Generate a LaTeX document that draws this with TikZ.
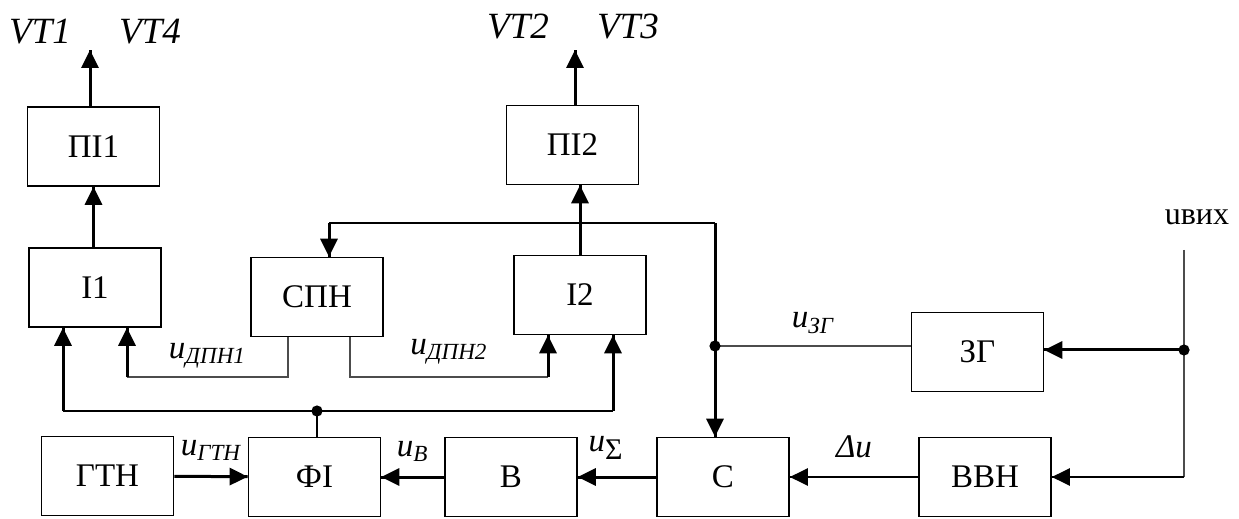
\documentclass[tikz,border=0pt]{standalone}
\usepackage{fontspec}
\setmainfont{Liberation Serif}
\usetikzlibrary{arrows.meta,decorations.markings}
\tikzset{
    blk/.style={draw, line width=0.8pt, minimum width=66pt, minimum height=39.5pt, inner sep=0pt, font=\fontsize{16.5}{19}\selectfont},
    sig/.style={draw=none, inner sep=1pt, font=\fontsize{16.5}{19}\selectfont\itshape},
    vtlbl/.style={draw=none, inner sep=0pt, font=\fontsize{18.5}{21}\selectfont\itshape},
    line/.style={line width=0.6pt, draw=black!70},
    linemed/.style={line width=1.1pt},
    linethk/.style={line width=1.5pt},
    arrowfwd/.style={decoration={markings,mark=at position 1 with {\arrow{Triangle[length=9pt,width=8.5pt]}}},postaction={decorate}},
    junc/.style={fill=black}
}
\newcommand{\sigu}[1]{u\textsubscript{#1}}

\begin{document}
\begin{tikzpicture}[x=0.5pt,y=-0.5pt]
        \useasboundingbox (0,0) rectangle (1239,519);

        \node[blk] (pi1) at (93.5,146.5) {ПІ1};
        \node[blk] (pi2) at (572.5,145) {ПІ2};
        \node[blk] (i1) at (95,287.5) {І1};
        \node[blk] (spn) at (317,297) {СПН};
        \node[blk] (i2) at (580,295) {І2};
        \node[blk] (zg) at (977.5,352) {ЗГ};
        \node[blk] (gtn) at (107.5,476) {ГТН};
        \node[blk] (fi) at (314.5,477) {ФІ};
        \node[blk] (v) at (511,477) {В};
        \node[blk] (s) at (723,477) {С};
        \node[blk] (vvn) at (985,477) {ВВН};

        \node[vtlbl] (vt1) at (40,32) {VT1};
        \node[vtlbl] (vt4) at (150,32) {VT4};
        \node[vtlbl] (vt2) at (518,27) {VT2};
        \node[vtlbl] (vt3) at (628,27) {VT3};
        \node[font=\fontsize{16}{19}\selectfont, inner sep=0pt] (uout) at (1197,217) {uвих};

        \coordinate (pi1out) at (90,50);
        \coordinate (pi2out) at (575,50);
        \coordinate (tcorner) at (715,223);
        \coordinate (spnin) at (329,223);
        \coordinate (jz) at (715,346);
        \coordinate (d1) at (288,377);
        \coordinate (d1end) at (127,377);
        \coordinate (d2) at (350,377);
        \coordinate (d2end) at (548,377);
        \coordinate (jf) at (317,411);
        \coordinate (b1) at (63,411);
        \coordinate (b2) at (613,411);
        \coordinate (vtop) at (1184,250);
        \coordinate (jv) at (1184,350);
        \coordinate (vbot) at (1184,477);

        \begin{scope}
            % outputs to the transistors
            \draw[linethk,arrowfwd] (pi1out |- pi1.north) -- (pi1out);
            \draw[linethk,arrowfwd] (pi2out |- pi2.north) -- (pi2out);
            \draw[linethk,arrowfwd] (pi1.south |- i1.north) -- (pi1.south);
            \draw[linethk,arrowfwd] (i2.north) -- (i2.north |- pi2.south);
            % reference generator branch
            \draw[line] (zg.west |- jz) -- (jz) node[midway, above=5pt, sig] {\sigu{ЗГ}};
            \draw[linethk,arrowfwd] (jz) -- (jz |- s.north);
            \draw[linethk] (jz) -- (tcorner);
            \draw[linemed] (tcorner) -- (spnin);
            \draw[linethk,arrowfwd] (spnin) -- (spnin |- spn.north);
            % СПН outputs
            \draw[line] (spn.south -| d1) -- (d1) -- (d1end) node[midway, above=3pt, sig] {\sigu{ДПН1}};
            \draw[linethk,arrowfwd] (d1end) -- (d1end |- i1.south);
            \draw[line] (spn.south -| d2) -- (d2) -- (d2end) node[midway, above=5pt, sig] {\sigu{ДПН2}};
            \draw[linethk,arrowfwd] (d2end) -- (d2end |- i2.south);
            % ФІ feeds both integrators
            \draw[linemed] (fi.north -| jf) -- (jf);
            \draw[linemed] (b1) -- (b2);
            \draw[linethk,arrowfwd] (b1) -- (b1 |- i1.south);
            \draw[linethk,arrowfwd] (b2) -- (b2 |- i2.south);
            % bottom row
            \draw[linethk,arrowfwd] (gtn) -- (fi) node[midway, above=6pt, sig] {\sigu{ГТН}};
            \draw[linethk,arrowfwd] (v) -- (fi) node[midway, above=6pt, sig] {\sigu{В}};
            \draw[linethk,arrowfwd] (s) -- (v) node[pos=0.64, above=7pt, sig] {\sigu{\fontsize{15}{15}\selectfont\upshape Σ}};
            \draw[linemed,arrowfwd] (vvn) -- (s) node[midway, above=8pt, sig] {Δu};
            % output voltage feedback
            \draw[line] (vtop) -- (jv) -- (vbot);
            \draw[linethk,arrowfwd] (jv) -- (jv -| zg.east);
            \draw[linemed,arrowfwd] (vbot) -- (vbot -| vvn.east);
        \end{scope}

        \fill[junc] (jz) circle (2.8pt);
        \fill[junc] (jf) circle (2.8pt);
        \fill[junc] (jv) circle (2.8pt);
    \end{tikzpicture}
\end{document}
